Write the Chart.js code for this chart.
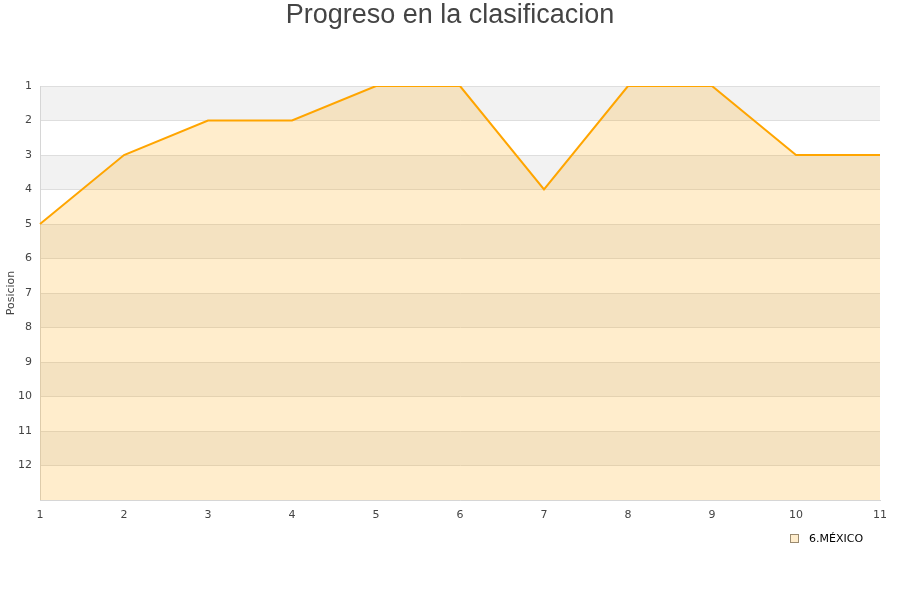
<!DOCTYPE html>
<html>
<head>
<meta charset="utf-8">
<script src="https://cdn.jsdelivr.net/npm/chart.js@4/dist/chart.umd.min.js"></script>
<style>
  body { margin: 0; background: #fff; }
  #wrap { width: 900px; height: 600px; }
</style>
</head>
<body>
<div id="wrap"><canvas id="myChart" width="900" height="600"></canvas></div>
<script>
// jornadas y posiciones
var jornadas = ['1', '2', '3', '4', '5', '6', '7', '8', '9', '10', '11']
var posiciones = [5, 3, 2, 2, 1, 1, 4, 1, 1, 3, 3]
var equipo = '6.MÉXICO'
var titulo = 'Progreso en la clasificacion'

// franjas grises alternas
var franjas = {
    id: 'franjas',
    beforeDraw: function (chart) {
        var ctx = chart.ctx
        var area = chart.chartArea
        var y = chart.scales.y
        ctx.save()
        ctx.fillStyle = '#f2f2f2'
        for (var v = 1; v < 13; v += 2) {
            var y1 = y.getPixelForValue(v)
            var y2 = y.getPixelForValue(v + 1)
            ctx.fillRect(area.left, y1, area.right - area.left, y2 - y1)
        }
        ctx.restore()
    },
    //titulo y leyenda a mano
    afterDraw: function (chart) {
        var ctx = chart.ctx
        ctx.save()
        ctx.fillStyle = '#444'
        ctx.font = '27px "Liberation Sans"'
        ctx.textAlign = 'center'
        ctx.textBaseline = 'middle'
        ctx.fillText(titulo, 450, 16)

        ctx.fillStyle = 'rgba(255,165,0,0.2)'
        ctx.fillRect(790.5, 534.5, 8, 8)
        ctx.strokeStyle = '#9a8a70'
        ctx.lineWidth = 1
        ctx.strokeRect(790.5, 534.5, 8, 8)
        ctx.fillStyle = '#000'
        ctx.font = '11px "DejaVu Sans"'
        ctx.textAlign = 'left'
        ctx.fillText(equipo, 809, 539)
        ctx.restore()
    }
}

let myChart = document.getElementById('myChart').getContext('2d');
let grafico = new Chart(myChart, {
    type: 'line',
    data: {
        labels: jornadas,
        datasets: [{
            label: equipo,
            data: posiciones,
            borderColor: '#FFA500',
            backgroundColor: 'rgba(255,165,0,0.2)',
            borderWidth: 2,
            pointRadius: 0,
            tension: 0,
            fill: { value: 13 }
        }]
    },
    options: {
        responsive: false,
        animation: false,
        layout: { padding: { left: 0, right: 20, top: 86, bottom: 0 } },
        plugins: {
            title: { display: false },
            legend: { display: false },
            tooltip: { enabled: false }
        },
        scales: {
            x: {
                offset: false,
                grid: { display: false },
                border: { display: true, color: '#d6d6d6' },
                ticks: {
                    color: '#444',
                    font: { family: 'DejaVu Sans', size: 11 },
                    maxRotation: 0,
                    padding: 1
                },
                afterFit: function (scale) { scale.height = 100 }
            },
            y: {
                reverse: true,
                min: 1,
                max: 13,
                grid: { color: '#dedede', drawTicks: false },
                border: { display: true, color: '#d6d6d6' },
                title: {
                    display: true,
                    text: 'Posicion',
                    color: '#444',
                    font: { family: 'DejaVu Sans', size: 11 },
                    padding: { top: 5, bottom: 0 }
                },
                ticks: {
                    stepSize: 1,
                    color: '#444',
                    font: { family: 'DejaVu Sans', size: 11 },
                    padding: 8,
                    callback: function (v) { return v == 13 ? '' : v }
                },
                afterFit: function (scale) { scale.width = 40 }
            }
        }
    },
    plugins: [franjas]
});
</script>
</body>
</html>
